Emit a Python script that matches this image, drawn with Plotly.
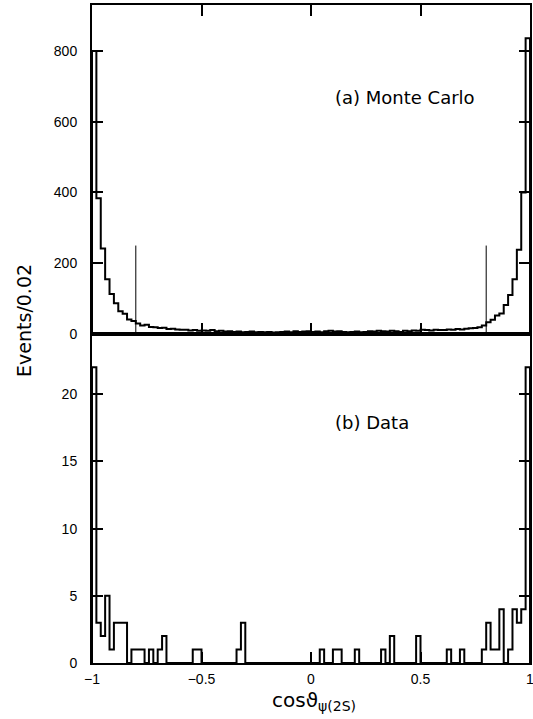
import plotly.graph_objects as go
from plotly.subplots import make_subplots

# binning: 100 bins of 0.02 over cos(theta) in [-1, 1]
bin_lo = -1.0
bin_width = 0.02
n_bins = 100

# (a) Monte Carlo, events per bin
mc_counts = [
    800, 384, 242, 155, 113, 87, 64, 57, 41, 37,
    30, 24, 26, 20, 19, 17, 18, 14, 15, 13,
    12, 12, 10, 11, 9, 10, 9, 11, 8, 9,
    7, 8, 6, 7, 5, 6, 7, 5, 6, 5,
    6, 4, 5, 6, 7, 5, 8, 6, 7, 8,
    6, 7, 5, 8, 9, 7, 8, 6, 5, 6,
    7, 5, 6, 8, 7, 9, 8, 7, 9, 8,
    6, 9, 8, 10, 9, 12, 11, 10, 12, 11,
    11, 13, 12, 14, 13, 15, 16, 17, 19, 24,
    33, 40, 52, 58, 82, 110, 155, 238, 400, 836,
]

# (b) Data, events per bin
data_counts = [
    22, 3, 2, 5, 1, 3, 3, 3, 0, 1,
    1, 1, 0, 1, 0, 1, 2, 0, 0, 0,
    0, 0, 0, 1, 1, 0, 0, 0, 0, 0,
    0, 0, 0, 1, 3, 0, 0, 0, 0, 0,
    0, 0, 0, 0, 0, 0, 0, 0, 0, 0,
    0, 0, 1, 0, 0, 1, 1, 0, 0, 0,
    1, 0, 0, 0, 0, 0, 1, 0, 2, 0,
    0, 0, 0, 0, 2, 0, 0, 0, 0, 0,
    0, 1, 0, 0, 1, 0, 0, 0, 0, 1,
    3, 1, 1, 4, 0, 1, 4, 3, 4, 22,
]

# acceptance cut shown on the MC panel
cut_values = [-0.8, 0.8]
cut_height = 250

edges = [bin_lo + i * bin_width for i in range(n_bins + 1)]


def step_xy(counts):
    # outline of a histogram, drawn with hv steps
    return [edges[0]] + edges, [0] + list(counts) + [0]


fig = make_subplots(rows=2, cols=1, shared_xaxes=True, vertical_spacing=0)

x, y = step_xy(mc_counts)
fig.add_trace(go.Scatter(x=x, y=y, mode="lines", line=dict(shape="hv", color="black", width=2),
                         showlegend=False), row=1, col=1)
for c in cut_values:
    fig.add_trace(go.Scatter(x=[c, c], y=[0, cut_height], mode="lines",
                             line=dict(color="black", width=1), showlegend=False), row=1, col=1)

x, y = step_xy(data_counts)
fig.add_trace(go.Scatter(x=x, y=y, mode="lines", line=dict(shape="hv", color="black", width=2),
                         showlegend=False), row=2, col=1)

tickfont = dict(family="Liberation Sans", size=14, color="black")
axis_style = dict(showline=True, linecolor="black", linewidth=2, ticks="inside", ticklen=11,
                  tickwidth=2, tickcolor="black", showgrid=False, zeroline=False,
                  tickfont=tickfont, automargin=False, ticklabeloverflow="allow")

fig.update_xaxes(range=[-1, 1], tick0=-1, dtick=0.5, **axis_style)
fig.update_xaxes(mirror="ticks", showticklabels=False, row=1, col=1)
fig.update_xaxes(mirror=True, ticklabelstandoff=2, row=2, col=1)

fig.update_yaxes(mirror="ticks", ticklabelstandoff=10, **axis_style)
fig.update_yaxes(range=[0, 930], tick0=0, dtick=200, domain=[0.5, 1], row=1, col=1)
fig.update_yaxes(range=[0, 24.48], tick0=0, dtick=5, domain=[0, 0.5], row=2, col=1)

labfont = dict(family="DejaVu Sans", size=18, color="black")
fig.add_annotation(x=0.1, y=668, xref="x", yref="y", text="(a) Monte Carlo", showarrow=False,
                   xanchor="left", yanchor="middle", font=labfont)
fig.add_annotation(x=0.1, y=17.9, xref="x2", yref="y2", text="(b) Data", showarrow=False,
                   xanchor="left", yanchor="middle", font=labfont)

fig.add_annotation(x=-0.155, y=0.52, xref="paper", yref="paper", text="Events/0.02",
                   textangle=-90, showarrow=False, xanchor="center", yanchor="middle",
                   font=dict(family="DejaVu Sans", size=19, color="black"))
fig.add_annotation(x=0.407, y=-0.058, xref="paper", yref="paper",
                   text="cos\u03d1<sub>\u03c8(2S)</sub>",
                   showarrow=False, xanchor="left", yanchor="middle",
                   font=dict(family="DejaVu Sans", size=20, color="black"))

fig.update_layout(width=533, height=719, margin=dict(l=91.5, r=3, t=5, b=56),
                  plot_bgcolor="white", paper_bgcolor="white")

# drop the default body margin so the figure fills the window exactly
fig.write_html("out.html", config={"displayModeBar": False},
               post_script="document.body.style.margin='0';document.body.style.overflow='hidden';")
